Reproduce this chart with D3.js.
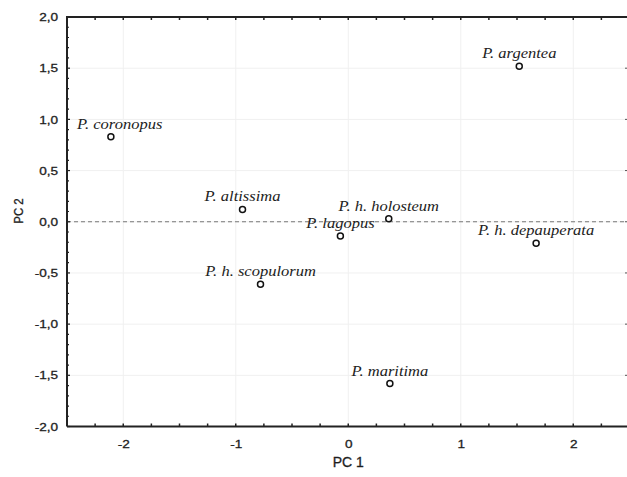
<!DOCTYPE html>
<html>
<head>
<meta charset="utf-8">
<script src="https://cdn.jsdelivr.net/npm/d3@7"></script>
<style>
  body { margin: 0; background: #fff; }
  svg { display: block; }
</style>
</head>
<body>
<script>
// species scores on the first two principal components
var species = ["P. coronopus", "P. altissima", "P. argentea", "P. h. holosteum",
  "P. lagopus", "P. h. depauperata", "P. h. scopulorum", "P. maritima"];
var pc1 = [-2.11, -0.94, 1.52, 0.36, -0.07, 1.67, -0.78, 0.37];
var pc2 = [0.83, 0.12, 1.52, 0.03, -0.14, -0.21, -0.61, -1.58];

var xTicks = [-2, -1, 0, 1, 2];
var yTicks = [-2, -1.5, -1, -0.5, 0, 0.5, 1, 1.5, 2];

var width = 627, height = 477;
var plotLeft = 67, plotTop = 17, plotRight = 629.5, plotBottom = 426.5;
var stretch = 1.18; // source picture is a bit wider than tall

var svg = d3.select("body").append("svg")
  .attr("width", width)
  .attr("height", height);

var x = d3.scaleLinear().domain([-2.5, 2.5]).range([plotLeft, plotRight]);
var y = d3.scaleLinear().domain([-2, 2]).range([plotBottom, plotTop]);

var loc = d3.formatLocale({decimal: ",", thousands: ".", grouping: [3], currency: ["", ""], minus: "-"});
var fmtY = loc.format(".1f");
var fmtX = loc.format("d");

// faint grid
svg.append("g").selectAll("line")
  .data(xTicks)
  .enter().append("line")
  .attr("x1", function(d){ return x(d); })
  .attr("x2", function(d){ return x(d); })
  .attr("y1", plotTop)
  .attr("y2", plotBottom)
  .style("stroke", "#f0f0f0")
  .style("stroke-width", 1);

svg.append("g").selectAll("line")
  .data(yTicks)
  .enter().append("line")
  .attr("x1", plotLeft)
  .attr("x2", width)
  .attr("y1", function(d){ return y(d); })
  .attr("y2", function(d){ return y(d); })
  .style("stroke", "#f0f0f0")
  .style("stroke-width", 1);

// dashed zero line
svg.append("line")
  .attr("x1", plotLeft)
  .attr("x2", width)
  .attr("y1", y(0))
  .attr("y2", y(0))
  .style("stroke", "#777")
  .style("stroke-width", 1)
  .style("stroke-dasharray", "4,3");

// left axis labels
var yAxis = d3.axisLeft(y)
  .tickValues(yTicks)
  .tickSize(0)
  .tickPadding(0)
  .tickFormat(fmtY);

var gy = svg.append("g")
  .attr("transform", "translate(" + plotLeft + ",0)")
  .call(yAxis);
gy.select(".domain").remove();
gy.selectAll("text")
  .attr("x", null)
  .attr("transform", "translate(-9,0) scale(" + stretch + ",1)")
  .style("font-family", "Liberation Sans, Arial, sans-serif")
  .style("font-size", "11.5px")
  .style("fill", "#1e1e1e")
  .style("stroke", "#1e1e1e")
  .style("stroke-width", 0.3);

// minor ticks on the left axis
svg.append("g").selectAll("line")
  .data(d3.range(-20, 21).map(function(i){ return i / 10; }))
  .enter().append("line")
  .attr("x1", plotLeft)
  .attr("x2", function(d){ return plotLeft + (Math.round(d * 10) % 5 === 0 ? 3 : 2); })
  .attr("y1", function(d){ return y(d); })
  .attr("y2", function(d){ return y(d); })
  .style("stroke", "#222")
  .style("stroke-width", 1.2);

// bottom axis labels
var xAxis = d3.axisBottom(x)
  .tickValues(xTicks)
  .tickSize(0)
  .tickPadding(0)
  .tickFormat(fmtX);

var gx = svg.append("g")
  .attr("transform", "translate(0," + plotBottom + ")")
  .call(xAxis);
gx.select(".domain").remove();
gx.selectAll("text")
  .attr("y", null)
  .attr("dy", null)
  .attr("transform", "translate(0,21.5) scale(" + stretch + ",1)")
  .style("font-family", "Liberation Sans, Arial, sans-serif")
  .style("font-size", "11.5px")
  .style("fill", "#1e1e1e")
  .style("stroke", "#1e1e1e")
  .style("stroke-width", 0.3);

// small ticks on top and bottom every 0.25
var quarter = d3.range(-9, 10).map(function(i){ return i / 4; });
svg.append("g").selectAll("line")
  .data(quarter)
  .enter().append("line")
  .attr("x1", function(d){ return x(d); })
  .attr("x2", function(d){ return x(d); })
  .attr("y1", plotBottom)
  .attr("y2", plotBottom - 3)
  .style("stroke", "#222")
  .style("stroke-width", 1.5);

svg.append("g").selectAll("line")
  .data(quarter)
  .enter().append("line")
  .attr("x1", function(d){ return x(d); })
  .attr("x2", function(d){ return x(d); })
  .attr("y1", plotTop)
  .attr("y2", plotTop + 3)
  .style("stroke", "#222")
  .style("stroke-width", 1.5);

// tiny ticks at right edge
svg.append("g").selectAll("line")
  .data(yTicks)
  .enter().append("line")
  .attr("x1", width - 2)
  .attr("x2", width)
  .attr("y1", function(d){ return y(d); })
  .attr("y2", function(d){ return y(d); })
  .style("stroke", "#555")
  .style("stroke-width", 1);

// frame lines
svg.append("path")
  .attr("d", "M" + plotLeft + "," + plotBottom + "V" + plotTop + "H" + width)
  .style("fill", "none")
  .style("stroke", "#222")
  .style("stroke-width", 2);
svg.append("line")
  .attr("x1", plotLeft)
  .attr("x2", width)
  .attr("y1", plotBottom)
  .attr("y2", plotBottom)
  .style("stroke", "#222")
  .style("stroke-width", 2);

// points and labels
var pts = svg.append("g").selectAll("g")
  .data(species)
  .enter().append("g");

pts.append("circle")
  .attr("cx", function(d, i){ return x(pc1[i]); })
  .attr("cy", function(d, i){ return y(pc2[i]); })
  .attr("r", 3)
  .style("fill", "none")
  .style("stroke", "#111")
  .style("stroke-width", 1.5);

var labels = pts.append("text")
  .attr("text-anchor", "middle")
  .style("font-family", "Liberation Serif, Times New Roman, serif")
  .style("font-style", "italic")
  .style("font-size", "14px")
  .style("fill", "#222")
  .text(function(d){ return d; });

// centre label above its point, but keep it clear of the left axis
labels.attr("transform", function(d, i){
  var half = this.getComputedTextLength() * stretch / 2;
  var cx = Math.max(x(pc1[i]), plotLeft + 10 + half);
  return "translate(" + cx + "," + (y(pc2[i]) - 8) + ") scale(" + stretch + ",1)";
});

// axis titles
svg.append("text")
  .attr("x", x(0))
  .attr("y", 467)
  .attr("text-anchor", "middle")
  .style("font-family", "Liberation Sans, Arial, sans-serif")
  .style("font-size", "14px")
  .style("fill", "#1e1e1e")
  .style("stroke", "#1e1e1e")
  .style("stroke-width", 0.3)
  .text("PC 1");

svg.append("text")
  .attr("transform", "translate(23,211) rotate(-90) scale(0.88,1.05)")
  .attr("text-anchor", "middle")
  .style("font-family", "Liberation Sans, Arial, sans-serif")
  .style("font-size", "13px")
  .style("fill", "#1e1e1e")
  .style("stroke", "#1e1e1e")
  .style("stroke-width", 0.3)
  .text("PC 2");
</script>
</body>
</html>
